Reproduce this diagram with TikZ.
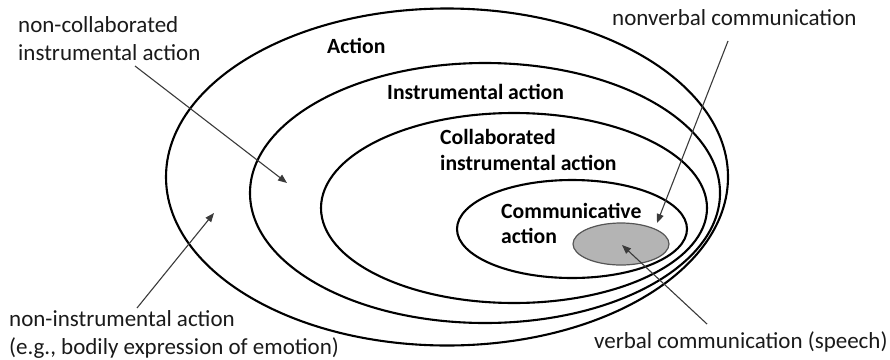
\documentclass[tikz,border=0pt]{standalone}
\usepackage{fontspec}
\setmainfont{Carlito}
\usetikzlibrary{arrows.meta}
\definecolor{txt}{HTML}{1A1A1A}
\definecolor{arr}{HTML}{3A3A3A}
\definecolor{fillgray}{HTML}{B4B4B4}
\definecolor{rimgray}{HTML}{555555}
\tikzset{
  ring/.style={draw=black, line width=2.1pt},
  pointer/.style={draw=arr, line width=1.1pt, -{Triangle[length=9pt,width=7pt]}},
  plainlabel/.style={inner sep=0pt, anchor=west, align=left, text=txt, font=\fontsize{23}{28}\selectfont},
  boldlabel/.style={inner sep=0pt, anchor=west, align=left, text=black, font=\bfseries\fontsize{21.7}{25.5}\selectfont}
}
\begin{document}
\begin{tikzpicture}[x=1pt, y=-1pt]
\useasboundingbox (0,0) rectangle (890,359);
% nested ellipses
\draw[ring] (447,177) ellipse [x radius=281pt, y radius=168.5pt];
\draw[ring] (485,193) ellipse [x radius=235pt, y radius=130pt];
\draw[ring] (514,208) ellipse [x radius=193pt, y radius=95pt];
\draw[ring] (572,229) ellipse [x radius=115pt, y radius=49pt];
\draw[draw=rimgray, fill=fillgray, line width=1.2pt] (621,244) ellipse [x radius=48pt, y radius=21pt];
% labels inside
\node[boldlabel] (act) at (327,46) {Action};
\node[boldlabel] (inst) at (387,92) {Instrumental action};
\node[boldlabel] (coll) at (440,150) {Collaborated\\instrumental action};
\node[boldlabel] (comm) at (501,223.5) {Communicative\\action};
% outside labels
\node[plainlabel] (noncoll) at (18,39) {non-collaborated\\instrumental action};
\node[plainlabel] (nonverb) at (612,18) {nonverbal communication};
\node[plainlabel] (verb) at (594,342) {verbal communication (speech)};
\node[plainlabel] (noninst) at (9,334) {non-instrumental action\\(e.g., bodily expression of emotion)};
% arrow ends
\coordinate (a1s) at (135,66);  \coordinate (a1e) at (287,183);
\coordinate (a2s) at (137,308); \coordinate (a2e) at (214,213);
\coordinate (a3s) at (728,41);  \coordinate (a3e) at (657,223);
\coordinate (a4s) at (707,324); \coordinate (a4e) at (622,245);
\draw[pointer] (a1s) -- (a1e);
\draw[pointer] (a2s) -- (a2e);
\draw[pointer] (a3s) -- (a3e);
\draw[pointer] (a4s) -- (a4e);
\end{tikzpicture}
\end{document}
